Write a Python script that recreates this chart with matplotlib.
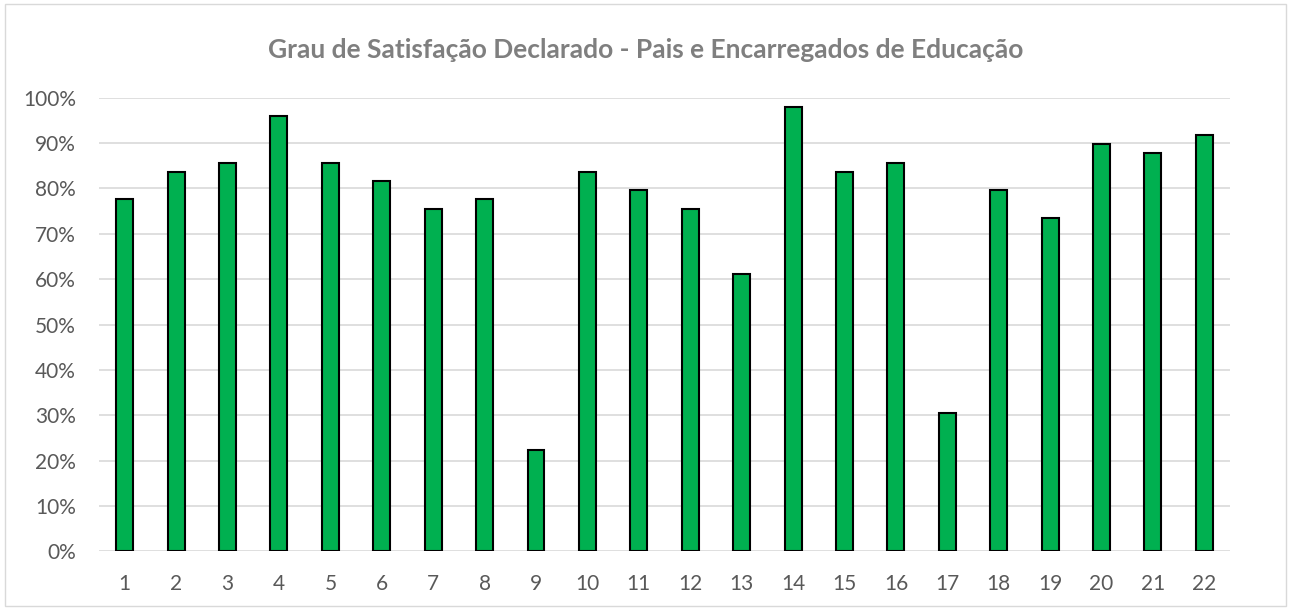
import matplotlib.pyplot as plt
from matplotlib.patches import Rectangle
from matplotlib.ticker import PercentFormatter

categorias = [str(i) for i in range(1, 23)]
satisfacao = [77.6, 83.7, 85.7, 95.9, 85.7, 81.6, 75.5, 77.6, 22.4, 83.7, 79.6,
              75.5, 61.2, 98.0, 83.7, 85.7, 30.6, 79.6, 73.5, 89.8, 87.8, 91.8]
yticks = [0, 10, 20, 30, 40, 50, 60, 70, 80, 90, 100]

plt.rcParams['font.family'] = ['Lato', 'DejaVu Sans']

fig = plt.figure(figsize=(12.91, 6.10), dpi=100)
ax = fig.add_axes([0.0767, 0.0962, 0.8761, 0.7436])

x = range(len(categorias))
ax.bar(x, satisfacao, width=0.33, color='#00B050', edgecolor='black', linewidth=1.5, zorder=3)

ax.set_xlim(-0.5, len(categorias) - 0.5)
ax.set_ylim(0, 100)
ax.set_xticks(list(x))
ax.set_xticklabels(categorias)
ax.set_yticks(yticks)
ax.yaxis.set_major_formatter(PercentFormatter(decimals=0))
ax.grid(axis='y', color='#d9d9d9', linewidth=1.2, zorder=0)
for s in ax.spines.values():
    s.set_visible(False)
ax.tick_params(axis='both', length=0, labelsize=15, colors='#595959')
ax.tick_params(axis='x', pad=16)
ax.tick_params(axis='y', pad=16.5)

fig.text(0.5, 0.918, 'Grau de Satisfação Declarado - Pais e Encarregados de Educação',
         ha='center', va='center', fontsize=19, fontweight='bold', color='#7f7f7f')

fig.patches.append(Rectangle((0.004, 0.006), 0.992, 0.988, transform=fig.transFigure,
                             fill=False, edgecolor='#d9d9d9', linewidth=1))

fig.savefig('out.png', dpi=100)
